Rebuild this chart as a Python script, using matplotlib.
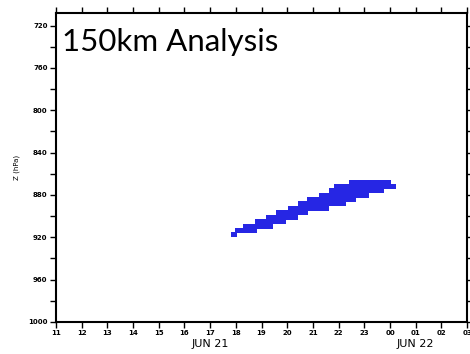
import matplotlib
matplotlib.use("Agg")
import matplotlib.pyplot as plt
from matplotlib.patches import Rectangle

# ------------------------------------------
# data (hours since JUN 21 00Z, pressure in hPa)
# ------------------------------------------

hours = list(range(11, 28))
hour_labels = ["11", "12", "13", "14", "15", "16", "17", "18", "19",
               "20", "21", "22", "23", "00", "01", "02", "03"]

p_ticks = [720, 760, 800, 840, 880, 920, 960, 1000]
p_minor = [740, 780, 820, 860, 900, 940, 980]

# each shaded row: pressure level, start hour, end hour
row_p = [917.7, 913.9, 910.2, 905.4, 901.6, 896.9, 893.1,
         888.4, 884.6, 880.8, 876.1, 872.3, 868.5]
row_start = [17.83, 17.95, 18.26, 18.73, 19.19, 19.58, 20.01,
             20.40, 20.75, 21.25, 21.64, 21.83, 22.42]
row_end = [18.03, 18.81, 19.43, 19.97, 20.40, 20.79, 21.64,
           22.30, 22.69, 23.19, 23.78, 24.24, 24.05]

date_labels = ["JUN 21", "JUN 22"]
date_pos = [17, 25]

# ------------------------------------------
# figure
# ------------------------------------------

fig = plt.figure(figsize=(4.7, 3.54), dpi=100)
ax = fig.add_axes([0.119, 0.0904, 0.875, 0.873])

for p, t0, t1 in zip(row_p, row_start, row_end):
    ax.add_patch(Rectangle((t0, p - 2.4), t1 - t0, 4.8,
                           facecolor="#2626e4", edgecolor="none"))

ax.set_xlim(11, 27)
ax.set_ylim(1000, 708)

ax.set_xticks(hours)
ax.set_xticklabels(hour_labels, fontsize=5, fontweight="bold")
ax.set_yticks(p_ticks)
ax.set_yticklabels([str(p) for p in p_ticks], fontsize=5, fontweight="bold")
ax.set_yticks(p_minor, minor=True)

ax.tick_params(axis="both", which="both", direction="out", length=4,
               width=1, top=True, right=True, pad=2)

for s in ax.spines.values():
    s.set_linewidth(1.5)

ax.set_ylabel("Z (hPa)", fontsize=5, labelpad=6)

for lab, x in zip(date_labels, date_pos):
    ax.text(x, -0.055, lab, transform=ax.get_xaxis_transform(),
            ha="center", va="top", fontsize=8)

ax.text(0.015, 0.877, "150km Analysis", transform=ax.transAxes,
        ha="left", va="baseline", fontsize=22.5, family="Lato")

fig.savefig("out.png", dpi=100)
